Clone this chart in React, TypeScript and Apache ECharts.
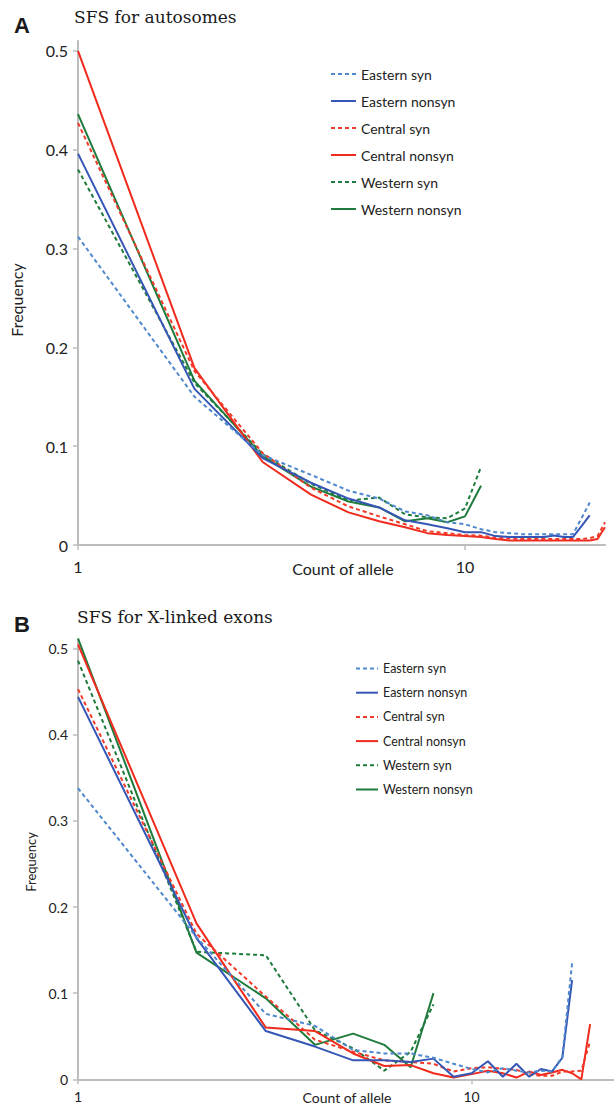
import React, { useEffect, useRef } from "react";
import * as echarts from "echarts";

const NAMES = ["Eastern syn", "Eastern nonsyn", "Central syn", "Central nonsyn", "Western syn", "Western nonsyn"];
const COLORS = ["#4f88cc", "#3556b5", "#f23a2a", "#f02a1c", "#1e7b3c", "#1e7b3c"];
const DASHED = [true, false, true, false, true, false];

const COUNTS = [1, 2, 3, 4, 5, 6, 7, 8, 9, 10, 11, 12, 13, 14, 15, 16, 17, 18, 19, 20, 21, 22, 23];

// Panel A: autosomes
const A_EASTERN_SYN = [0.312, 0.150, 0.091, 0.071, 0.055, 0.047, 0.034, 0.030, 0.023, 0.021, 0.016, 0.013, 0.012, 0.011, 0.011, 0.011, 0.011, 0.011, 0.011, 0.027, 0.043];
const A_EASTERN_NONSYN = [0.396, 0.158, 0.088, 0.063, 0.047, 0.038, 0.025, 0.021, 0.017, 0.013, 0.013, 0.009, 0.008, 0.008, 0.008, 0.008, 0.0095, 0.008, 0.008, 0.019, 0.030];
const A_CENTRAL_SYN = [0.427, 0.176, 0.093, 0.058, 0.039, 0.029, 0.021, 0.014, 0.012, 0.010, 0.0094, 0.0074, 0.0065, 0.006, 0.006, 0.006, 0.006, 0.006, 0.006, 0.006, 0.007, 0.009, 0.023];
const A_CENTRAL_NONSYN = [0.500, 0.179, 0.084, 0.051, 0.033, 0.024, 0.018, 0.012, 0.010, 0.009, 0.008, 0.006, 0.0045, 0.0045, 0.0045, 0.0045, 0.0045, 0.0045, 0.0045, 0.0045, 0.0045, 0.006, 0.018];
const A_WESTERN_SYN = [0.380, 0.164, 0.092, 0.062, 0.045, 0.048, 0.031, 0.028, 0.027, 0.037, 0.079];
const A_WESTERN_NONSYN = [0.436, 0.166, 0.090, 0.059, 0.044, 0.038, 0.024, 0.027, 0.023, 0.029, 0.060];

// Panel B: X-linked exons
const B_EASTERN_SYN = [0.338, 0.165, 0.076, 0.062, 0.034, 0.030, 0.030, 0.025, 0.018, 0.012, 0.008, 0.013, 0.010, 0.008, 0.010, 0.009, 0.026, 0.135];
const B_EASTERN_NONSYN = [0.444, 0.164, 0.056, 0.038, 0.022, 0.022, 0.020, 0.024, 0.003, 0.007, 0.021, 0.003, 0.018, 0.003, 0.012, 0.009, 0.025, 0.115];
const B_CENTRAL_SYN = [0.453, 0.169, 0.096, 0.046, 0.032, 0.022, 0.020, 0.018, 0.009, 0.013, 0.014, 0.012, 0.011, 0.006, 0.004, 0.004, 0.009, 0.009, 0.010, 0.044];
const B_CENTRAL_NONSYN = [0.505, 0.181, 0.060, 0.056, 0.030, 0.0155, 0.0165, 0.007, 0.002, 0.006, 0.010, 0.007, 0.002, 0.009, 0.005, 0.008, 0.011, 0.007, 0.0, 0.064];
const B_WESTERN_SYN = [0.486, 0.148, 0.144, 0.057, 0.036, 0.010, 0.032, 0.087];
const B_WESTERN_NONSYN = [0.512, 0.147, 0.094, 0.040, 0.053, 0.040, 0.014, 0.100];

const Y_TICKS = [0, 0.1, 0.2, 0.3, 0.4, 0.5];
const X_TICKS = [1, 10];

const SERIES_A = [A_EASTERN_SYN, A_EASTERN_NONSYN, A_CENTRAL_SYN, A_CENTRAL_NONSYN, A_WESTERN_SYN, A_WESTERN_NONSYN];
const SERIES_B = [B_EASTERN_SYN, B_EASTERN_NONSYN, B_CENTRAL_SYN, B_CENTRAL_NONSYN, B_WESTERN_SYN, B_WESTERN_NONSYN];

const FONT = "Lato, 'Open Sans', sans-serif";

export default function App() {
  const ref = useRef<HTMLDivElement>(null);
  useEffect(() => {
    document.body.style.margin = "0";
    if (!ref.current) return;
    const chart = echarts.init(ref.current, undefined, { renderer: "svg" });

    const mkSeries = (vals: number[][], panel: number) =>
      vals.map((v, i) => ({
        name: NAMES[i],
        type: "line",
        xAxisIndex: panel,
        yAxisIndex: panel,
        data: v.map((y, k) => [COUNTS[k], y]),
        symbol: "none",
        showSymbol: false,
        clip: false,
        z: 2 + (5 - i),
        lineStyle: { color: COLORS[i], width: 2, type: DASHED[i] ? [4, 3] : "solid" },
        itemStyle: { color: COLORS[i] },
      }));

    const xAxisCommon = (fs: number, margin: number) => ({
      type: "log",
      logBase: 10,
      min: 1,
      max: 23,
      axisLine: { show: true, lineStyle: { color: "#bdbdbd", width: 2 } },
      axisTick: { show: true, length: 5, lineStyle: { color: "#bdbdbd", width: 1.5 }, customValues: X_TICKS },
      axisLabel: { color: "#222", fontFamily: FONT, fontSize: fs, margin, customValues: X_TICKS },
      splitLine: { show: false },
      minorTick: { show: false },
    });
    const yAxisCommon = (fs: number) => ({
      type: "value",
      min: 0,
      max: 0.51,
      axisLine: { show: true, lineStyle: { color: "#bdbdbd", width: 2 } },
      axisTick: { show: true, length: 5, lineStyle: { color: "#bdbdbd", width: 1.5 }, customValues: Y_TICKS },
      axisLabel: { color: "#222", fontFamily: FONT, fontSize: fs, margin: 10, customValues: Y_TICKS, formatter: (v: number) => String(Math.round(v * 10) / 10) },
      splitLine: { show: false },
    });

    const option = {
      animation: false,
      backgroundColor: "#ffffff",
      grid: [
        { left: 78, top: 41, width: 527, height: 504 },
        { left: 78, top: 640, width: 538, height: 439.3 },
      ],
      xAxis: [
        { ...xAxisCommon(16, 13), gridIndex: 0 },
        { ...xAxisCommon(14, 10), gridIndex: 1 },
      ],
      yAxis: [
        { ...yAxisCommon(16), gridIndex: 0 },
        { ...yAxisCommon(14), gridIndex: 1 },
      ],
      legend: [
        {
          left: 330, top: 67, orient: "vertical", itemWidth: 25, itemHeight: 14, itemGap: 13,
          data: NAMES, selectedMode: false, padding: 0,
          itemStyle: { opacity: 0 },
          textStyle: { fontFamily: FONT, fontSize: 14, color: "#222" },
        },
        {
          left: 355, top: 662, orient: "vertical", itemWidth: 22, itemHeight: 12, itemGap: 11.2,
          data: NAMES, selectedMode: false, padding: 0,
          itemStyle: { opacity: 0 },
          textStyle: { fontFamily: FONT, fontSize: 12.5, color: "#222" },
        },
      ],
      graphic: [
        { type: "text", left: 14, top: 14, style: { text: "A", fontFamily: "'Liberation Sans', Arial, sans-serif", fontWeight: "bold", fontSize: 22, fill: "#1a1a1a" } },
        { type: "text", left: 74, top: 8, style: { text: "SFS for autosomes", fontFamily: "'DejaVu Serif', serif", fontSize: 17, fill: "#1a1a1a" } },
        { type: "text", left: 14, top: 613, style: { text: "B", fontFamily: "'Liberation Sans', Arial, sans-serif", fontWeight: "bold", fontSize: 22, fill: "#1a1a1a" } },
        { type: "text", left: 77, top: 608, style: { text: "SFS for X-linked exons", fontFamily: "'DejaVu Serif', serif", fontSize: 17, fill: "#1a1a1a" } },
        { type: "text", x: 343, y: 568, style: { text: "Count of allele", fontFamily: FONT, fontSize: 16, fill: "#222", align: "center", verticalAlign: "middle" } },
        { type: "text", x: 347, y: 1097, style: { text: "Count of allele", fontFamily: FONT, fontSize: 14, fill: "#222", align: "center", verticalAlign: "middle" } },
        { type: "text", x: 16, y: 300, rotation: Math.PI / 2, style: { text: "Frequency", fontFamily: FONT, fontSize: 16, fill: "#222", align: "center", verticalAlign: "middle" } },
        { type: "text", x: 31, y: 862, rotation: Math.PI / 2, style: { text: "Frequency", fontFamily: FONT, fontSize: 13, fill: "#222", align: "center", verticalAlign: "middle" } },
      ],
      series: [...mkSeries(SERIES_A, 0), ...mkSeries(SERIES_B, 1)],
    };
    chart.setOption(option as any);
    return () => chart.dispose();
  }, []);
  return <div ref={ref} style={{ width: 614, height: 1107 }} />;
}
